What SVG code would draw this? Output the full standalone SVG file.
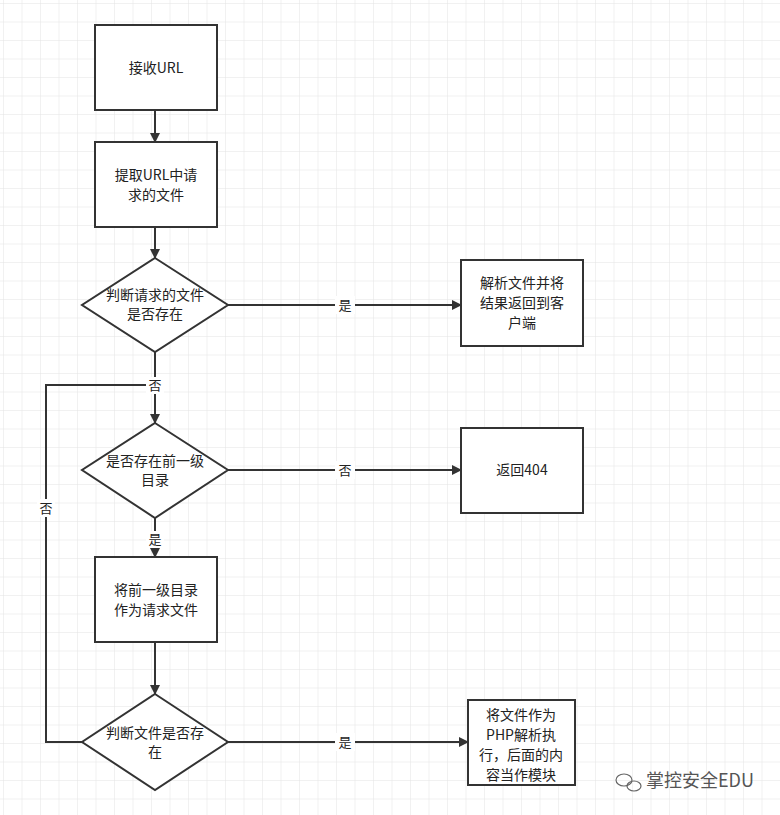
<svg xmlns="http://www.w3.org/2000/svg" width="780" height="815" viewBox="0 0 780 815">
<defs>
<pattern id="g" width="18.5" height="18.5" patternUnits="userSpaceOnUse" x="4" y="4"><path d="M18.5 0V18.5H0" fill="none" stroke="#e4e4e4" stroke-width="1"/></pattern>
<marker id="a" markerWidth="10" markerHeight="10" refX="9" refY="5" orient="auto" markerUnits="userSpaceOnUse" viewBox="0 0 10 10"><path d="M0 0L10 5L0 10z" fill="#333"/></marker>
<style>
.n{fill:#fff;stroke:#333;stroke-width:2}
.t{font-family:"Noto Sans CJK SC","Liberation Sans",sans-serif;font-size:14px;fill:#222;text-anchor:middle}
.c{fill:none;stroke:#333;stroke-width:2;marker-end:url(#a)}
.l{font-family:"Noto Sans CJK SC",sans-serif;font-size:13px;fill:#222;text-anchor:middle}
</style>
</defs>
<rect width="780" height="815" fill="#fff"/>
<rect width="780" height="815" fill="url(#g)"/>
<g id="connectors">
<path class="c" d="M155 110V142"/>
<path class="c" d="M155 227V258"/>
<path class="c" d="M228 305H461"/>
<path class="c" d="M155 352V423"/>
<path class="c" d="M228 470H461"/>
<path class="c" d="M155 518V557"/>
<path class="c" d="M155 642V694"/>
<path class="c" d="M228 742H468"/>
<path class="c" d="M82 742H46V385H155V423" style="marker-end:none"/>
<rect x="335" y="296" width="20" height="18" fill="#fff"/><text class="l" x="345" y="310">是</text>
<rect x="335" y="461" width="20" height="18" fill="#fff"/><text class="l" x="345" y="475">否</text>
<rect x="335" y="733" width="20" height="18" fill="#fff"/><text class="l" x="345" y="747">是</text>
<rect x="146" y="377" width="18" height="17" fill="#fff"/><text class="l" x="155" y="390">否</text>
<rect x="146" y="531" width="18" height="17" fill="#fff"/><text class="l" x="155" y="544">是</text>
<rect x="37" y="499" width="18" height="18" fill="#fff"/><text class="l" x="46" y="513">否</text>
</g>
<g id="n1"><rect class="n" x="95" y="25" width="122" height="85"/><text class="t" x="156" y="73">接收URL</text></g>
<g id="n2"><rect class="n" x="95" y="142" width="122" height="85"/><text class="t" x="156" y="180">提取URL中请</text><text class="t" x="156" y="200">求的文件</text></g>
<g id="d1"><path class="n" d="M155 258L228 305L155 352L82 305z"/><text class="t" x="155" y="300">判断请求的文件</text><text class="t" x="155" y="319">是否存在</text></g>
<g id="n3"><rect class="n" x="461" y="260" width="122" height="86"/><text class="t" x="522" y="288">解析文件并将</text><text class="t" x="522" y="308">结果返回到客</text><text class="t" x="522" y="328">户端</text></g>
<g id="d2"><path class="n" d="M155 423L228 470L155 518L82 470z"/><text class="t" x="155" y="466">是否存在前一级</text><text class="t" x="155" y="485">目录</text></g>
<g id="n4"><rect class="n" x="461" y="428" width="122" height="85"/><text class="t" x="522" y="475">返回404</text></g>
<g id="n5"><rect class="n" x="95" y="557" width="122" height="85"/><text class="t" x="156" y="595">将前一级目录</text><text class="t" x="156" y="615">作为请求文件</text></g>
<g id="d3"><path class="n" d="M155 694L228 742L155 790L82 742z"/><text class="t" x="155" y="738">判断文件是否存</text><text class="t" x="155" y="757">在</text></g>
<g id="n6"><rect class="n" x="468" y="700" width="107" height="85"/><text class="t" x="521" y="720">将文件作为</text><text class="t" x="521" y="740">PHP解析执</text><text class="t" x="521" y="760">行，后面的内</text><text class="t" x="521" y="780">容当作模块</text></g>
<g id="wm" fill="none" stroke="#666" stroke-width="1.2"><ellipse cx="624" cy="780" rx="8" ry="6"/><ellipse cx="634" cy="786" rx="7" ry="5"/></g>
<text x="646" y="787" font-family="Noto Sans CJK SC,sans-serif" font-size="18" fill="#555">掌控安全EDU</text>
</svg>
